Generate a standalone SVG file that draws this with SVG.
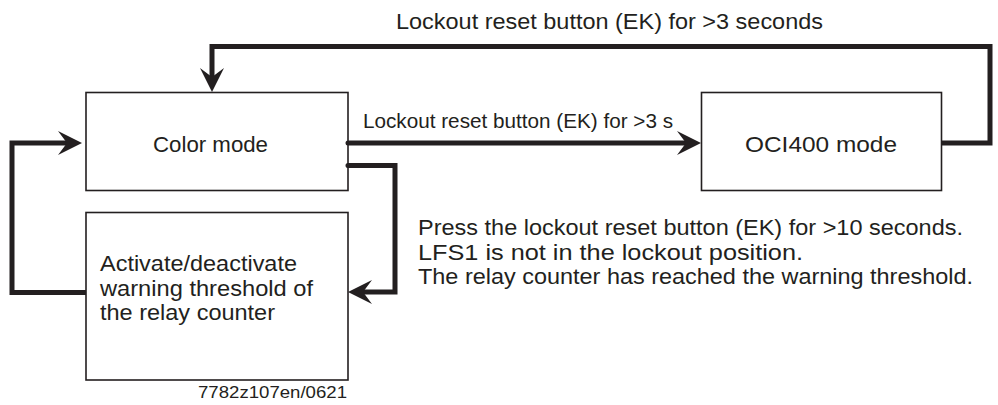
<svg xmlns="http://www.w3.org/2000/svg" width="998" height="405" viewBox="0 0 998 405">
<style>
.box{fill:#fff;stroke:#231f20;stroke-width:1.6}
.t{font-family:"Liberation Sans",Arial,sans-serif;font-size:22px;fill:#231f20}
.c{fill:none;stroke:#231f20;stroke-width:5;stroke-linejoin:miter}
</style>
<defs>
<marker id="ah" markerUnits="userSpaceOnUse" markerWidth="40" markerHeight="40" refX="-10" refY="0" orient="auto" overflow="visible">
<path d="M0,0 L-24,-12 L-15,0 L-24,12 Z" fill="#231f20"/>
</marker>
</defs>
<g id="color-mode">
<rect class="box" x="86" y="92.5" width="262" height="98"/>
<text class="t" x="153" y="151.5" textLength="115" lengthAdjust="spacingAndGlyphs">Color mode</text>
</g>
<g id="oci400-mode">
<rect class="box" x="701.5" y="92.5" width="240" height="98"/>
<text class="t" x="745" y="151.5" textLength="152" lengthAdjust="spacingAndGlyphs">OCI400 mode</text>
</g>
<g id="relay-counter">
<rect class="box" x="86" y="212.5" width="262" height="167.5"/>
<text class="t" x="100" y="271" textLength="197" lengthAdjust="spacingAndGlyphs">Activate/deactivate</text>
<text class="t" x="100" y="295.5" textLength="213" lengthAdjust="spacingAndGlyphs">warning threshold of</text>
<text class="t" x="100" y="320" textLength="175" lengthAdjust="spacingAndGlyphs">the relay counter</text>
</g>
<g id="connectors">
<path class="c" d="M941.5,143 H990 V46.5 H212 V82" marker-end="url(#ah)"/>
<path class="c" d="M348,143 H691" stroke-linecap="round" marker-end="url(#ah)"/>
<path class="c" d="M348,165.5 H395 V292 H358" stroke-linecap="round" marker-end="url(#ah)"/>
<path class="c" d="M86,292.5 H12 V143 H72" marker-end="url(#ah)"/>
</g>
<g id="labels">
<text class="t" x="396" y="28.5" textLength="427" lengthAdjust="spacingAndGlyphs">Lockout reset button (EK) for &gt;3 seconds</text>
<text class="t" x="363" y="128" textLength="310" lengthAdjust="spacingAndGlyphs" style="font-size:21px">Lockout reset button (EK) for &gt;3 s</text>
<text class="t" x="418" y="235" textLength="545" lengthAdjust="spacingAndGlyphs">Press the lockout reset button (EK) for &gt;10 seconds.</text>
<text class="t" x="418" y="259.5" textLength="385" lengthAdjust="spacingAndGlyphs">LFS1 is not in the lockout position.</text>
<text class="t" x="418" y="284" textLength="555" lengthAdjust="spacingAndGlyphs">The relay counter has reached the warning threshold.</text>
<text class="t" x="198" y="398" textLength="149" lengthAdjust="spacingAndGlyphs" style="font-size:17px">7782z107en/0621</text>
</g>
</svg>
